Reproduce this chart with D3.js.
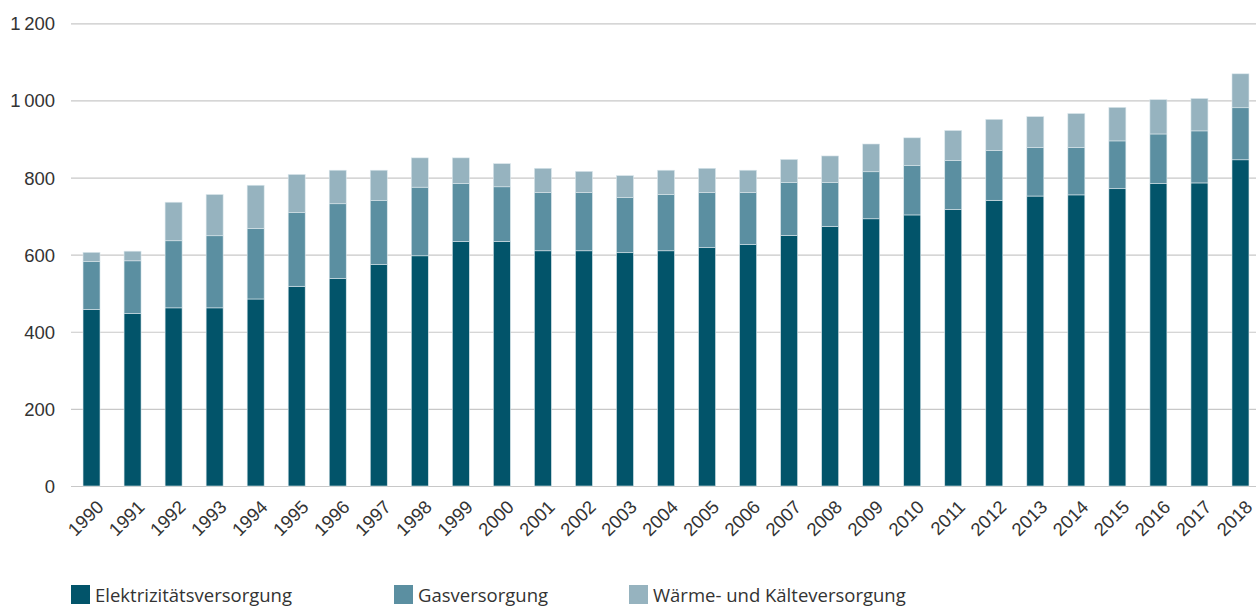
<!DOCTYPE html>
<html lang="de">
<head>
<meta charset="utf-8">
<script src="https://cdn.jsdelivr.net/npm/d3@7"></script>
<style>
  html, body { margin: 0; padding: 0; background: #fff; }
  svg { display: block; font-family: "Open Sans", "Noto Sans", sans-serif; }
</style>
</head>
<body>
<svg id="chart" width="1257" height="608"></svg>
<script>
// Jahre und Werte je Versorgungsbereich
const years = ["1990","1991","1992","1993","1994","1995","1996","1997","1998","1999",
  "2000","2001","2002","2003","2004","2005","2006","2007","2008","2009",
  "2010","2011","2012","2013","2014","2015","2016","2017","2018"];
const elektrizitaet = [458,447,462,462,485,518,538,574,597,634,
  634,610,610,605,610,618,626,650,673,693,
  703,717,741,752,755,771,784,786,846];
const gas = [124,137,174,187,183,191,194,166,178,151,
  142,151,151,143,146,143,135,137,114,122,
  128,127,129,126,123,124,129,135,135];
const waerme = [24,25,100,107,112,99,87,79,76,66,
  60,63,55,57,63,63,58,60,69,72,
  72,78,81,80,88,87,89,84,88];
const yTicks = [0, 200, 400, 600, 800, 1000, 1200];

const seriesNames = ["Elektrizitätsversorgung", "Gasversorgung", "Wärme- und Kälteversorgung"];
const seriesKeys = ["elek", "gas", "waerme"];
const colors = ["#02546a", "#5b8fa1", "#96b3bf"];

const rows = years.map((y, i) => ({ year: y, elek: elektrizitaet[i], gas: gas[i], waerme: waerme[i] }));

const svg = d3.select("#chart");
const left = 71, gridRight = 1256;

const x = d3.scaleBand()
  .domain(years)
  .range([left, 1261])
  .paddingInner(0.586)
  .paddingOuter(0.293);

const y = d3.scaleLinear().domain([0, 1200]).range([486, 23.3]);

const fmt = v => v >= 1000 ? d3.format(",")(v).replace(",", "\u2009") : String(v);

// Gitterlinien und y-Beschriftung
const yAxis = svg.append("g").attr("transform", `translate(${left},0)`)
  .call(d3.axisLeft(y).tickValues(yTicks).tickSize(-(gridRight - left)).tickPadding(16).tickFormat(fmt));
yAxis.select(".domain").remove();
yAxis.selectAll(".tick line").attr("stroke", "#c8c8c8").attr("stroke-width", 1.2);
yAxis.selectAll(".tick text")
  .attr("fill", "#333").style("font-size", "18.5px").attr("dy", "0.35em");

// gestapelte Säulen
const stack = d3.stack().keys(seriesKeys)(rows);
svg.append("g").selectAll("g").data(stack).join("g")
  .attr("fill", (d, i) => colors[i])
  .selectAll("rect").data(d => d).join("rect")
  .attr("x", d => x(d.data.year))
  .attr("width", x.bandwidth())
  .attr("y", d => y(d[1]))
  .attr("height", d => y(d[0]) - y(d[1]))
  .attr("stroke", "#dbe7ec").attr("stroke-width", 0.6);

// x-Achse
const xAxis = svg.append("g").attr("transform", "translate(0,486)")
  .call(d3.axisBottom(x).tickSize(0).tickPadding(0));
xAxis.select(".domain").remove();
xAxis.selectAll(".tick text")
  .attr("fill", "#333").style("font-size", "18.5px")
  .attr("text-anchor", "end")
  .attr("transform", "translate(4,13) rotate(-45)")
  .attr("dy", "0.7em");

// Legende
const legendX = [71, 394, 629];
const legend = svg.append("g").selectAll("g").data(seriesNames).join("g")
  .attr("transform", (d, i) => `translate(${legendX[i]},585)`);
legend.append("rect").attr("width", 19).attr("height", 19).attr("fill", (d, i) => colors[i]);
legend.append("text").attr("x", 24).attr("y", 17)
  .attr("fill", "#333").style("font-size", "18.5px").text(d => d);
</script>
</body>
</html>
